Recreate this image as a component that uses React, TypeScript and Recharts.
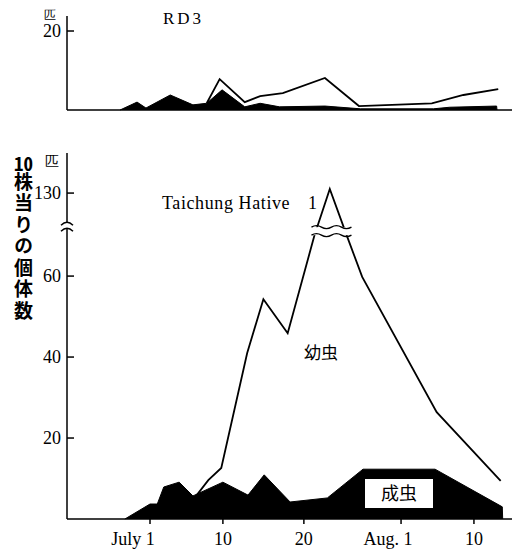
import { ComposedChart, Area, Line, XAxis, YAxis, ReferenceDot } from "recharts";

// days counted from July 1 (= 1); Aug. 1 = 32
const rd3AdultDays = [-2.7, -0.6, 0.5, 3.5, 6.3, 8, 9.9, 12.7, 14.6, 17, 22.6, 27, 36, 38, 43.8, 43.85];
const rd3AdultValues = [0, 2.0, 0.5, 3.8, 1.3, 1.7, 5.1, 0.8, 1.7, 0.8, 1.0, 0.3, 0.3, 0.7, 1.0, 0];
const rd3LarvaDays = [8, 9.6, 12.7, 14.6, 17.4, 22.6, 26.8, 35.8, 39.7, 44];
const rd3LarvaValues = [1.7, 7.8, 2.0, 3.5, 4.3, 8.1, 1.0, 1.7, 3.8, 5.3];

const thAdultDays = [-2.1, 1.0, 1.9, 2.7, 4.6, 6.3, 10, 13.1, 15.1, 18.3, 22.9, 27.3, 36.2, 44.5, 44.55];
const thAdultValues = [0, 3.7, 3.7, 7.9, 9.1, 5.7, 9.1, 5.9, 10.9, 4.2, 5.2, 12.3, 12.3, 3, 0];
const thLarvaDays = [6.7, 8.2, 9.8, 13, 15, 18, 21.3, 23.2, 25.3, 27.2, 36.4, 44.3];
const thLarvaValues = [5.7, 9.6, 12.6, 41, 54.3, 45.9, 70, 137, 70, 59.8, 26.4, 9.4];

const xTicks = [1, 10, 20, 32, 41];
const xTickLabels = ["July 1", "10", "20", "Aug. 1", "10"];
const xTickShift = [-17, 0, 0, -13, 0];
const topYTicks = [20];
const bottomYTicks = [20, 40, 60, 130];

const X_DOMAIN = [-9.25, 45.7];
const BREAK = 72;
const K = 0.1466;
const toDisplay = (v: number) => (v <= BREAK ? v : BREAK + (v - BREAK) * K);
const fromDisplay = (d: number) => (d <= BREAK ? d : BREAK + (d - BREAK) / K);

const zip = (xs: number[], ys: number[], f = (v: number) => v) =>
  xs.map((d, i) => ({ day: d, value: f(ys[i]) }));

const SERIF = "'Liberation Serif', 'DejaVu Serif', serif";
const CJK = "'Noto Sans CJK JP', sans-serif";
const serifStyle = { fontFamily: SERIF };

function YTick(props: any) {
  const { x, y, payload } = props;
  const label = Math.round(fromDisplay(payload.value));
  return (
    <g>
      <text x={x} y={y} dy={6} textAnchor="end" style={serifStyle} fontSize={18} fill="#000">
        {label}
      </text>
      <line x1={x + 6} x2={x + 13} y1={y} y2={y} stroke="#000" strokeWidth={1.5} />
    </g>
  );
}

function XTick(props: any) {
  const { x, y, payload } = props;
  const i = xTicks.indexOf(payload.value);
  return (
    <text x={x + xTickShift[i]} y={y} dy={19} textAnchor="middle" style={serifStyle} fontSize={18} fill="#000">
      {xTickLabels[i]}
    </text>
  );
}

const AxisBreak = (p: any) => {
  const { cx, cy } = p;
  return (
    <g>
      <rect x={cx - 8} y={cy - 4} width={16} height={6} fill="#fff" />
      <path d={`M${cx - 6} ${cy - 1} Q${cx} ${cy - 7} ${cx + 6} ${cy - 1}`} fill="none" stroke="#000" strokeWidth={1.5} />
      <path d={`M${cx - 6} ${cy + 5} Q${cx} ${cy - 1} ${cx + 6} ${cy + 5}`} fill="none" stroke="#000" strokeWidth={1.5} />
    </g>
  );
};

const PeakBreak = (p: any) => {
  const { cx, cy } = p;
  const wave = (yy: number) =>
    `M${cx - 21} ${yy} q5 -3 10 0 t10 0 t10 0 t10 0`;
  return (
    <g>
      <rect x={cx - 22} y={cy - 4} width={44} height={8} fill="#fff" />
      <path d={wave(cy - 4)} fill="none" stroke="#000" strokeWidth={1.3} />
      <path d={wave(cy + 4)} fill="none" stroke="#000" strokeWidth={1.3} />
    </g>
  );
};

export default function App() {
  return (
    <div style={{ position: "absolute", left: 0, top: 0, width: 516, height: 553, background: "#fff" }}>
      {/* RD3 */}
      <div style={{ position: "absolute", left: 0, top: 0 }}>
        <ComposedChart width={516} height={130} margin={{ top: 16, right: 4, bottom: 0, left: 0 }}>
          <XAxis
            type="number"
            dataKey="day"
            domain={X_DOMAIN}
            allowDataOverflow
            height={20}
            tick={false}
            tickLine={false}
            axisLine={{ stroke: "#000", strokeWidth: 1.5 }}
          />
          <YAxis
            type="number"
            domain={[0, 23.8]}
            ticks={topYTicks}
            width={67}
            tickSize={0}
            tickMargin={6}
            tickLine={false}
            tick={<YTick />}
            axisLine={{ stroke: "#000", strokeWidth: 1.5 }}
          />
          <Area
            data={zip(rd3AdultDays, rd3AdultValues)}
            dataKey="value"
            type="linear"
            stroke="#000"
            strokeWidth={1}
            fill="#000"
            fillOpacity={1}
            isAnimationActive={false}
          />
          <Line
            data={zip(rd3LarvaDays, rd3LarvaValues)}
            dataKey="value"
            type="linear"
            stroke="#000"
            strokeWidth={1.8}
            dot={false}
            isAnimationActive={false}
          />
        </ComposedChart>
      </div>

      {/* Taichung Hative 1 */}
      <div style={{ position: "absolute", left: 0, top: 130 }}>
        <ComposedChart width={516} height={423} margin={{ top: 23, right: 4, bottom: 0, left: 0 }}>
          <XAxis
            type="number"
            dataKey="day"
            domain={X_DOMAIN}
            allowDataOverflow
            height={34}
            ticks={xTicks}
            tickSize={5}
            tick={<XTick />}
            tickLine={{ stroke: "#000", strokeWidth: 1.5 }}
            axisLine={{ stroke: "#000", strokeWidth: 1.5 }}
          />
          <YAxis
            type="number"
            domain={[0, 90.4]}
            ticks={bottomYTicks.map(toDisplay)}
            width={67}
            tickSize={0}
            tickMargin={6}
            tickLine={false}
            tick={<YTick />}
            axisLine={{ stroke: "#000", strokeWidth: 1.5 }}
          />
          <Area
            data={zip(thAdultDays, thAdultValues)}
            dataKey="value"
            type="linear"
            stroke="#000"
            strokeWidth={1}
            fill="#000"
            fillOpacity={1}
            isAnimationActive={false}
          />
          <Line
            data={zip(thLarvaDays, thLarvaValues, toDisplay)}
            dataKey="value"
            type="linear"
            stroke="#000"
            strokeWidth={1.8}
            dot={false}
            isAnimationActive={false}
          />
          <ReferenceDot x={X_DOMAIN[0]} y={72.3} ifOverflow="visible" shape={AxisBreak} />
          <ReferenceDot x={23.53} y={71.1} ifOverflow="visible" shape={PeakBreak} />
        </ComposedChart>
      </div>

      {/* vertical axis title */}
      <div
        style={{
          position: "absolute",
          left: 12,
          top: 153,
          writingMode: "vertical-rl",
          fontFamily: CJK,
          fontWeight: "bold",
          fontSize: 19,
          lineHeight: "22px",
          letterSpacing: 2.5,
          color: "#000",
        }}
      >
        <span style={{ textCombineUpright: "all" } as any}>10</span>株当りの個体数
      </div>

      {/* text annotations */}
      <svg width={516} height={553} style={{ position: "absolute", left: 0, top: 0, pointerEvents: "none" }}>
        <text x={50} y={19} textAnchor="middle" style={serifStyle} fontSize={12} fill="#000">匹</text>
        <text x={163} y={24} style={serifStyle} fontSize={17} letterSpacing={3} fill="#000">RD3</text>
        <text x={52} y={166} textAnchor="middle" style={serifStyle} fontSize={14} fill="#000">匹</text>
        <text x={162} y={209} style={serifStyle} fontSize={18} letterSpacing={0.6} fill="#000">Taichung Hative</text>
        <text x={308} y={209} style={serifStyle} fontSize={18} fill="#000">1</text>
        <text x={321} y={359} textAnchor="middle" fontFamily={CJK} fontSize={17} fill="#000">幼虫</text>
        <rect x={365} y={479} width={68} height={29} fill="#fff" />
        <text x={399} y={500} textAnchor="middle" fontFamily={CJK} fontSize={18} fill="#000">成虫</text>
      </svg>
    </div>
  );
}
